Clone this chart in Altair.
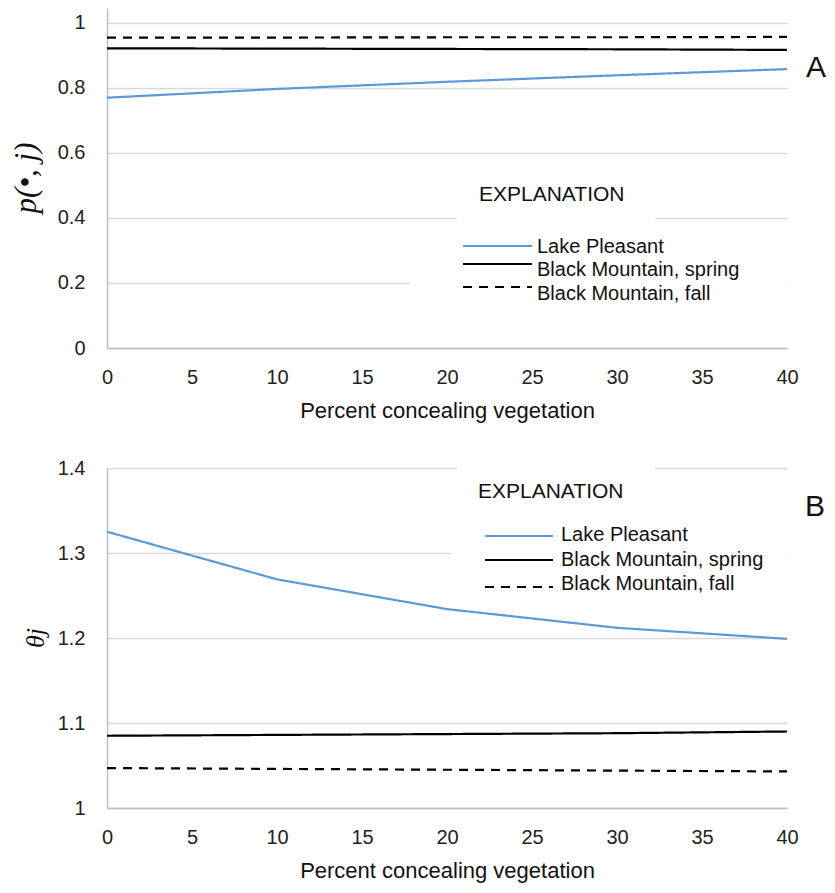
import altair as alt
import pandas as pd

# ---------------- data ----------------
x_vals = [0, 10, 20, 30, 40]
series_names = ["Lake Pleasant", "Black Mountain, spring", "Black Mountain, fall"]

a_lake = [0.770, 0.797, 0.819, 0.839, 0.858]
a_spring = [0.922, 0.921, 0.920, 0.919, 0.917]
a_fall = [0.955, 0.955, 0.956, 0.956, 0.957]

b_lake = [1.325, 1.269, 1.234, 1.212, 1.199]
b_spring = [1.085, 1.086, 1.087, 1.088, 1.090]
b_fall = [1.047, 1.046, 1.045, 1.044, 1.043]

x_ticks = [0, 5, 10, 15, 20, 25, 30, 35, 40]
a_ticks = [0, 0.2, 0.4, 0.6, 0.8, 1]
b_ticks = [1, 1.1, 1.2, 1.3, 1.4]

SANS = "Liberation Sans, Arial, sans-serif"
SERIF = "Liberation Serif, DejaVu Serif, serif"
BLUE = "#5B9BD5"
GRID = "#d9d9d9"
AXIS = "#bfbfbf"
W, H = 680, 340


def long_df(lake, spring, fall):
    rows = []
    for name, vals in zip(series_names, [lake, spring, fall]):
        for xv, yv in zip(x_vals, vals):
            rows.append({"x": xv, "y": yv, "series": name})
    return pd.DataFrame(rows)


one = pd.DataFrame({"d": [0]})


def vrule(x1, x2, y, color, dash=None):
    kw = dict(color=color, strokeWidth=2)
    if dash:
        kw["strokeDash"] = dash
    return alt.Chart(one).mark_rule(**kw).encode(
        x=alt.value(x1), x2=alt.value(x2), y=alt.value(y))


def vtext(txt, x, y, size, font=SANS, align="left", angle=0, style="normal"):
    return alt.Chart(one).mark_text(
        text=txt, align=align, baseline="middle", font=font, angle=angle,
        fontStyle=style, fontSize=size, color="#111").encode(
        x=alt.value(x), y=alt.value(y))


def vrect(x1, x2, y1, y2):
    return alt.Chart(one).mark_rect(color="white").encode(
        x=alt.value(x1), x2=alt.value(x2), y=alt.value(y1), y2=alt.value(y2))


def panel(df, domain, ticks, ytitle, boxes, leg, letter):
    xenc = alt.X("x:Q", scale=alt.Scale(domain=[0, 40], nice=False),
                 axis=alt.Axis(values=x_ticks, grid=False, ticks=False,
                               labelFlush=False,
                               domainColor=AXIS, domainWidth=1.5,
                               labelFont=SANS, labelFontSize=20,
                               labelPadding=19, labelColor="#222",
                               title="Percent concealing vegetation",
                               titleFont=SANS, titleFontSize=22,
                               titleFontWeight="normal", titleColor="#111",
                               titlePadding=13))
    yenc = alt.Y("y:Q", scale=alt.Scale(domain=domain, nice=False, zero=False),
                 axis=alt.Axis(values=ticks, format="~g", grid=True,
                               gridColor=GRID, gridWidth=1.5, ticks=False,
                               domainColor=AXIS, domainWidth=1.5,
                               labelFont=SANS, labelFontSize=20,
                               labelPadding=22, labelColor="#222",
                               title=None))
    lines = alt.Chart(df).mark_line(strokeWidth=2.2).encode(
        x=xenc, y=yenc,
        color=alt.Color("series:N", scale=alt.Scale(domain=series_names,
                        range=[BLUE, "black", "black"]), legend=None),
        strokeDash=alt.StrokeDash("series:N", scale=alt.Scale(
            domain=series_names, range=[[1, 0], [1, 0], [9, 7]]), legend=None),
        detail="series:N",
    )
    layers = [vrect(*b) for b in boxes]
    layers.append(lines)
    ex, ey, lx1, lx2, lys, tx, tys = leg
    layers.append(vtext("EXPLANATION", ex, ey, 21))
    colors = [BLUE, "black", "black"]
    dashes = [None, None, [9, 7]]
    for i, name in enumerate(series_names):
        layers.append(vrule(lx1, lx2, lys[i], colors[i], dashes[i]))
        layers.append(vtext(name, tx, tys[i], 20))
    layers.append(vtext(letter[0], letter[1], letter[2], 30, align="center"))
    t_txt, t_x, t_size = ytitle
    layers.append(vtext(t_txt, t_x, H / 2, t_size, font=SERIF, align="center",
                        angle=270, style="italic"))
    return alt.layer(*layers).properties(width=W, height=H)


dfa = long_df(a_lake, a_spring, a_fall)
dfb = long_df(b_lake, b_spring, b_fall)

panel_a = panel(
    dfa, [0, 1.046], a_ticks, ("p(•, j)", -80, 31),
    boxes=[(350, 548, 157, 222), (303, 680, 224, 322)],
    leg=(372, 187, 356, 425, [238, 256, 279], 430, [239, 262, 286]),
    letter=("A", 709, 60))

panel_b = panel(
    dfb, [1, 1.4], b_ticks, ("θj", -71, 26),
    boxes=[(350, 548, -3, 47), (344, 680, 50, 132)],
    leg=(371, 24, 378, 446, [68, 92, 119], 454, [67, 92, 116]),
    letter=("B", 708, 39))

chart = alt.vconcat(panel_a, panel_b, spacing=120, bounds="flush").properties(
    padding={"left": 3, "top": 0, "right": 0, "bottom": 5}
).configure_view(strokeWidth=0)

chart.save("out.html", embed_options={"renderer": "svg", "actions": False})
